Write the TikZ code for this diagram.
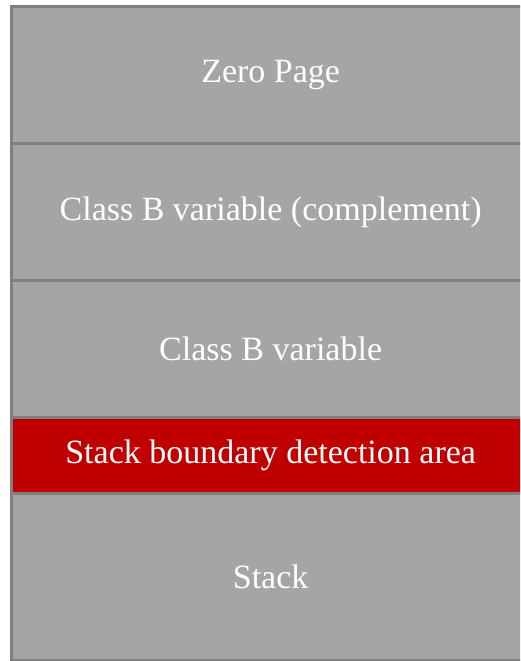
\documentclass[tikz,border=0pt]{standalone}
\usepackage{fontspec}
\setmainfont{Liberation Serif}
\usetikzlibrary{positioning}
\definecolor{memgray}{HTML}{A5A5A5}
\definecolor{memline}{HTML}{7F7F7F}
\definecolor{memred}{HTML}{C00000}
\begin{document}
\begin{tikzpicture}[x=1pt,y=1pt,
  mem block/.style={rectangle,fill=memgray,text=white,minimum width=518.6pt,
    inner sep=0pt,outer sep=0pt,overlay,font=\fontsize{34}{40}\selectfont},
  guard block/.style={mem block,fill=memred},
  mem edge/.style={draw=memline,line width=2.7pt,overlay}]
  \useasboundingbox (0,0) rectangle (520,661);
  \clip (0,0) rectangle (520,661);

  \node[mem block,minimum height=137.3pt,anchor=north west] (zp) at (11.35,654.8) {Zero Page};
  \node[mem block,minimum height=136.8pt,below=0pt of zp] (cmp) {Class B variable (complement)};
  \node[mem block,minimum height=137.4pt,below=0pt of cmp] (var) {Class B variable};
  \node[guard block,minimum height=75.6pt,below=0pt of var] (det) {Stack boundary detection area};
  \node[mem block,minimum height=166.7pt,below=0pt of det] (stk) {Stack};

  % outline, open on the right
  \draw[mem edge] (zp.north east) -- (zp.north west) -- (stk.south west) -- (stk.south east);
  \draw[mem edge] (zp.south west) -- (zp.south east);
  \draw[mem edge] (cmp.south west) -- (cmp.south east);
  \draw[mem edge] (var.south west) -- (var.south east);
  \draw[mem edge] (det.south west) -- (det.south east);
\end{tikzpicture}
\end{document}
